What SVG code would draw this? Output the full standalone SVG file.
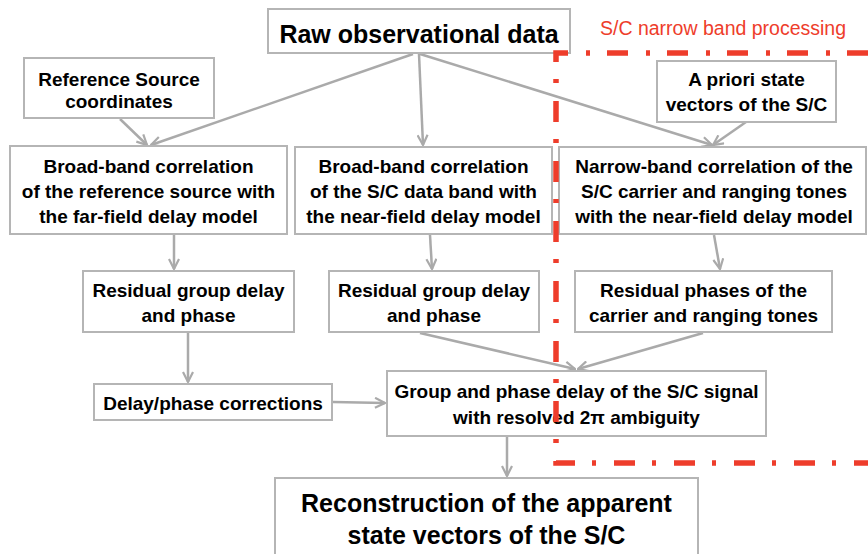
<svg xmlns="http://www.w3.org/2000/svg" width="868" height="554" viewBox="0 0 868 554">
<defs>
<style>
.box{fill:#ffffff;stroke:#b5b5b5;stroke-width:2}
.t{font-family:"Liberation Sans",Arial,sans-serif;font-weight:bold;font-size:19px;fill:#000;text-anchor:middle}
.big{font-size:25px}
.conn{stroke:#aaaaaa;stroke-width:2.5;fill:none;marker-end:url(#ah)}
.frame{fill:none;stroke:#ee3d2b;stroke-width:5.5;stroke-dasharray:21 17 4 18}
.lab{font-family:"Liberation Sans",Arial,sans-serif;font-size:19.5px;fill:#ee3d2b}
</style>
<marker id="ah" viewBox="0 0 12 12" refX="11" refY="6" markerWidth="12" markerHeight="12" markerUnits="userSpaceOnUse" orient="auto">
<polyline points="1,1 11,6 1,11" fill="none" stroke="#aaaaaa" stroke-width="2.2"/>
</marker>
</defs>
<rect width="868" height="554" fill="#ffffff"/>
<g id="connectors">
<line class="conn" x1="413" y1="54" x2="151" y2="145"/>
<line class="conn" x1="120" y1="119" x2="147" y2="145"/>
<line class="conn" x1="419" y1="54" x2="423" y2="145"/>
<line class="conn" x1="420" y1="54" x2="712" y2="145"/>
<line class="conn" x1="746" y1="122" x2="713" y2="145"/>
<line class="conn" x1="174" y1="235" x2="174" y2="269"/>
<line class="conn" x1="430" y1="235" x2="432" y2="269"/>
<line class="conn" x1="714" y1="235" x2="720" y2="269"/>
<line class="conn" x1="188" y1="333" x2="188" y2="382"/>
<line class="conn" x1="333" y1="402" x2="385" y2="403"/>
<line class="conn" x1="420" y1="333" x2="575" y2="369"/>
<line class="conn" x1="703" y1="333" x2="578" y2="369"/>
<line class="conn" x1="507" y1="437" x2="507" y2="476"/>
</g>
<g id="raw">
<rect class="box" x="268" y="9" width="302" height="44"/>
<text class="t big" x="419" y="43">Raw observational data</text>
</g>
<g id="refsrc">
<rect class="box" x="24" y="58" width="190" height="60"/>
<text class="t" x="119" y="86">Reference Source</text>
<text class="t" x="119" y="108">coordinates</text>
</g>
<g id="apriori">
<rect class="box" x="657" y="61" width="179" height="61"/>
<text class="t" x="746.5" y="86">A priori state</text>
<text class="t" x="746.5" y="111">vectors of the S/C</text>
</g>
<g id="bb1">
<rect class="box" x="10" y="146" width="277" height="88"/>
<text class="t" x="148.5" y="173">Broad-band correlation</text>
<text class="t" x="148.5" y="198">of the reference source with</text>
<text class="t" x="148.5" y="223">the far-field delay model</text>
</g>
<g id="bb2">
<rect class="box" x="295" y="147" width="257" height="87"/>
<text class="t" x="423.5" y="173">Broad-band correlation</text>
<text class="t" x="423.5" y="198">of the S/C data band with</text>
<text class="t" x="423.5" y="223">the near-field delay model</text>
</g>
<g id="nb">
<rect class="box" x="559" y="147" width="307" height="87"/>
<text class="t" x="714" y="173">Narrow-band correlation of the</text>
<text class="t" x="714" y="198">S/C carrier and ranging tones</text>
<text class="t" x="714" y="223">with the near-field delay model</text>
</g>
<g id="rg1">
<rect class="box" x="83" y="271" width="211" height="61"/>
<text class="t" x="188.5" y="297">Residual group delay</text>
<text class="t" x="188.5" y="322">and phase</text>
</g>
<g id="rg2">
<rect class="box" x="329" y="271" width="210" height="61"/>
<text class="t" x="434" y="297">Residual group delay</text>
<text class="t" x="434" y="322">and phase</text>
</g>
<g id="rp">
<rect class="box" x="575" y="271" width="257" height="61"/>
<text class="t" x="703.5" y="297">Residual phases of the</text>
<text class="t" x="703.5" y="322">carrier and ranging tones</text>
</g>
<g id="dp">
<rect class="box" x="94" y="384" width="238" height="36"/>
<text class="t" x="213" y="410">Delay/phase corrections</text>
</g>
<g id="grp">
<rect class="box" x="387" y="371" width="379" height="65"/>
<text class="t" x="576.5" y="398">Group and phase delay of the S/C signal</text>
<text class="t" x="576.5" y="424">with resolved 2π ambiguity</text>
</g>
<g id="recon">
<rect class="box" x="275" y="478" width="423" height="84"/>
<text class="t big" x="486.5" y="512">Reconstruction of the apparent</text>
<text class="t big" x="486.5" y="544">state vectors of the S/C</text>
</g>
<g id="narrowband-frame">
<path class="frame" d="M868,53 H556 V463 H868"/>
<text class="lab" x="600" y="35">S/C narrow band processing</text>
</g>
</svg>
